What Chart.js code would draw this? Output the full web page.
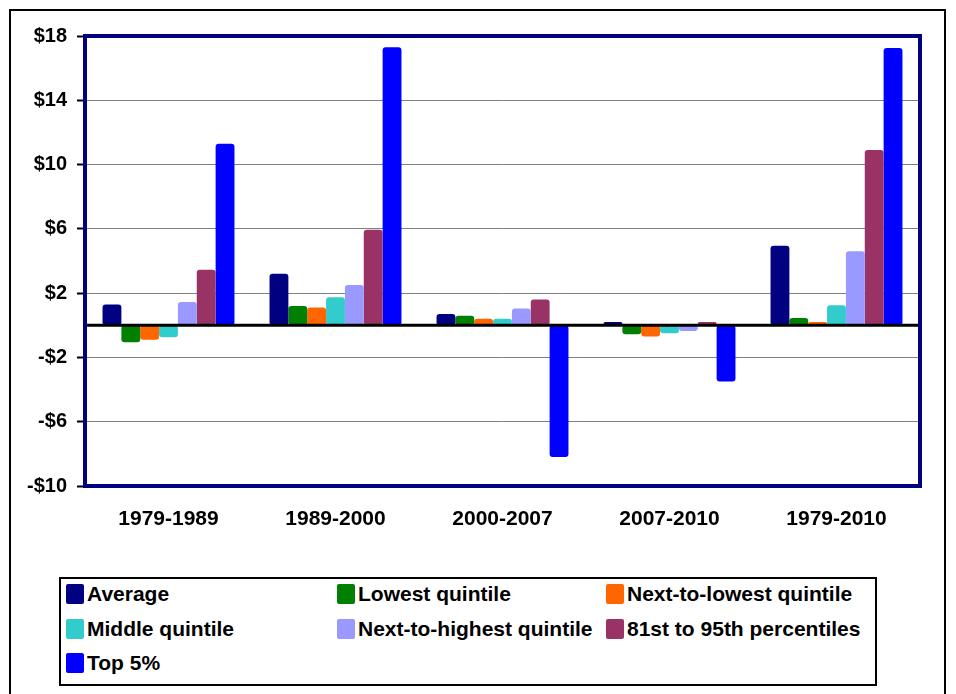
<!DOCTYPE html>
<html>
<head>
<meta charset="utf-8">
<script src="https://cdn.jsdelivr.net/npm/chart.js@4"></script>
<style>
  html, body { margin: 0; padding: 0; background: #fff; }
  body { width: 956px; height: 694px; position: relative; overflow: hidden;
         font-family: "Liberation Sans", Arial, sans-serif; }
  #frame { position: absolute; left: 9px; top: 9px; width: 937px; height: 700px;
           border: 2px solid #000; box-sizing: border-box; }
  #wrap { position: absolute; left: 0; top: 0; width: 956px; height: 560px; }
  #legend { position: absolute; left: 59px; top: 577px; width: 818px; height: 109px;
            border: 2px solid #000; box-sizing: border-box; }
  .item { position: absolute; display: flex; align-items: center; height: 22px;
          font-weight: bold; font-size: 21px; color: #000; white-space: nowrap; }
  .sw { width: 18px; height: 20px; border-radius: 2px; margin-right: 3px; }
</style>
</head>
<body>
<div id="frame"></div>
<div id="wrap"><canvas id="c" width="956" height="560"></canvas></div>
<div id="legend"></div>
<script>
// Periods along the x axis
const periods = ['1979-1989', '1989-2000', '2000-2007', '2007-2010', '1979-2010'];

// Change in income per group, one array per group (values in $)
const average        = [1.3, 3.2, 0.7, 0.2, 4.95];
const lowest         = [-1.05, 1.2, 0.6, -0.55, 0.45];
const nextToLowest   = [-0.9, 1.1, 0.4, -0.7, 0.2];
const middle         = [-0.75, 1.75, 0.4, -0.5, 1.25];
const nextToHighest  = [1.45, 2.5, 1.05, -0.35, 4.6];
const pct81to95      = [3.45, 5.95, 1.6, 0.2, 10.9];
const top5           = [11.3, 17.3, -8.2, -3.5, 17.25];

const seriesNames  = ['Average', 'Lowest quintile', 'Next-to-lowest quintile',
                      'Middle quintile', 'Next-to-highest quintile',
                      '81st to 95th percentiles', 'Top 5%'];
const seriesValues = [average, lowest, nextToLowest, middle, nextToHighest, pct81to95, top5];
const seriesColors = ['#000080', '#008000', '#FF6600', '#33CCCC', '#9999FF', '#993366', '#0000FF'];

// Y axis range and tick step
const yMin = -10, yMax = 18, yStep = 4;

const fontFamily = '"Liberation Sans", Arial, sans-serif';

// Navy plot frame and the black zero line drawn over the bars
const frameAndZero = {
  id: 'frameAndZero',
  afterDatasetsDraw(chart) {
    const { ctx, chartArea: a, scales } = chart;
    const y0 = scales.y.getPixelForValue(0);
    ctx.save();
    ctx.strokeStyle = '#000';
    ctx.lineWidth = 3;
    ctx.beginPath();
    ctx.moveTo(a.left, y0);
    ctx.lineTo(a.right, y0);
    ctx.stroke();
    ctx.strokeStyle = '#000080';
    ctx.lineWidth = 4;
    ctx.strokeRect(a.left, a.top, a.right - a.left, a.bottom - a.top);
    ctx.restore();
  }
};

new Chart(document.getElementById('c'), {
  type: 'bar',
  data: {
    labels: periods,
    datasets: seriesNames.map((name, i) => ({
      label: name,
      data: seriesValues[i],
      backgroundColor: seriesColors[i],
      borderRadius: 3,
      borderSkipped: false,
      categoryPercentage: 0.79,
      barPercentage: 1.0
    }))
  },
  options: {
    responsive: false,
    animation: false,
    layout: { padding: { top: 36, right: 36, left: 0, bottom: 0 } },
    plugins: { legend: { display: false }, tooltip: { enabled: false } },
    scales: {
      x: {
        grid: { display: false, drawTicks: false },
        border: { display: false },
        ticks: { color: '#000', padding: 21, maxRotation: 0,
                 font: { family: fontFamily, size: 21, weight: 'bold' } },
        afterFit(s) { s.height = 74; }
      },
      y: {
        min: yMin, max: yMax,
        ticks: {
          stepSize: yStep, color: '#000', padding: 10,
          font: { family: fontFamily, size: 20, weight: 'bold' },
          callback: v => (v < 0 ? '-$' + Math.abs(v) : '$' + v)
        },
        grid: { color: '#808080', lineWidth: 1, tickColor: '#000', tickLength: 8, tickWidth: 2 },
        border: { display: false },
        afterFit(s) { s.width = 85; }
      }
    }
  },
  plugins: [frameAndZero]
});

// Legend laid out in three columns
const legend = document.getElementById('legend');
const colX = [5, 276, 545];
const rowY = [4, 39, 73];
seriesNames.forEach((name, i) => {
  const el = document.createElement('div');
  el.className = 'item';
  el.style.left = colX[i % 3] + 'px';
  el.style.top = rowY[Math.floor(i / 3)] + 'px';
  const sw = document.createElement('div');
  sw.className = 'sw';
  sw.style.background = seriesColors[i];
  el.appendChild(sw);
  el.appendChild(document.createTextNode(name));
  legend.appendChild(el);
});
</script>
</body>
</html>
